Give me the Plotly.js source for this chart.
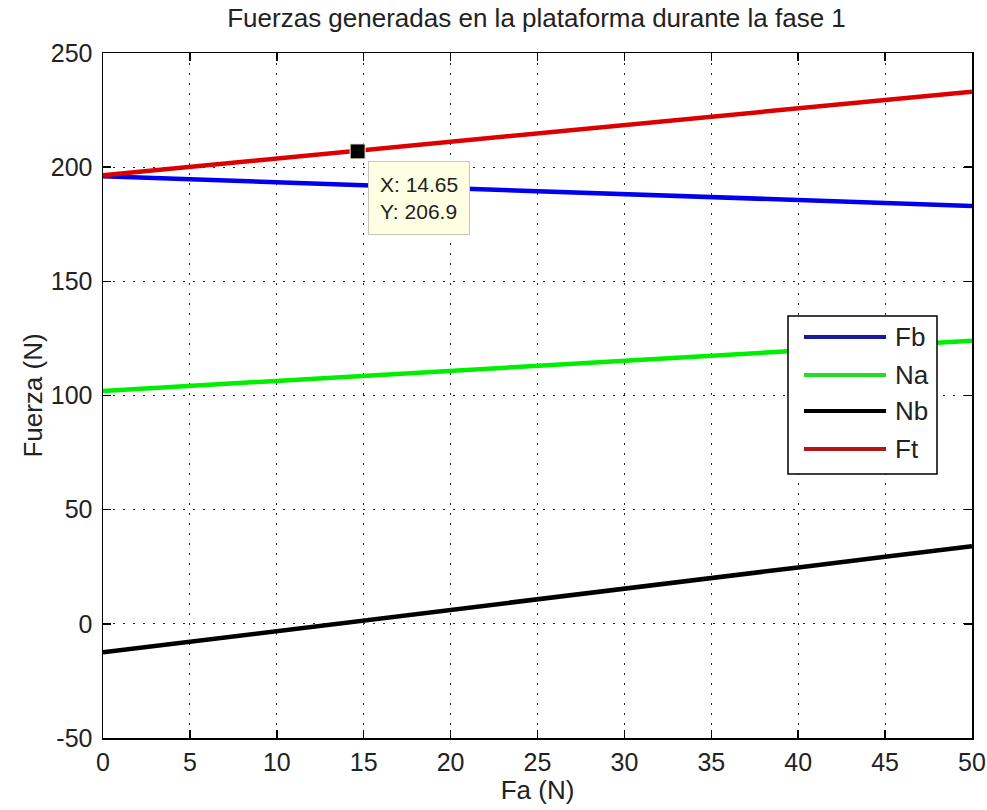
<!DOCTYPE html>
<html>
<head>
<meta charset="utf-8">
<script src="https://cdn.plot.ly/plotly-3.0.1.min.js"></script>
<style>html,body{margin:0;padding:0;background:#fff;}#chart{width:987px;height:810px;}</style>
</head>
<body>
<div id="chart"></div>
<script>
// Data
const fa = [0, 5, 10, 15, 20, 25, 30, 35, 40, 45, 50];
const fb = [196.0, 194.7, 193.4, 192.1, 190.8, 189.5, 188.2, 186.9, 185.6, 184.3, 183.0];
const na = [102.0, 104.2, 106.4, 108.6, 110.8, 113.0, 115.2, 117.4, 119.6, 121.8, 124.0];
const nb = [-12.5, -7.9, -3.2, 1.5, 6.1, 10.8, 15.4, 20.1, 24.7, 29.4, 34.0];
const ft = [196.5, 200.2, 203.8, 207.5, 211.1, 214.8, 218.4, 222.1, 225.7, 229.4, 233.0];
const seriesNames = ["Fb", "Na", "Nb", "Ft"];
const tipX = [14.65];
const tipY = [206.9];
const xTicks = [0, 5, 10, 15, 20, 25, 30, 35, 40, 45, 50];
const yTicks = [-50, 0, 50, 100, 150, 200, 250];

const font = "Liberation Sans, Arial, sans-serif";
const textColor = "#222";
const colors = ["#0000ee", "#00ee00", "#000000", "#dd0000"];
const legendColors = ["#1a1aa0", "#22dd22", "#000000", "#b01818"];
const ys = [fb, na, nb, ft];

const traces = ys.map((y, i) => ({
  x: fa, y: y, type: "scatter", mode: "lines", name: seriesNames[i],
  line: {color: colors[i], width: 4.5}
}));
traces.push({
  x: tipX, y: tipY, type: "scatter", mode: "markers", showlegend: false,
  marker: {symbol: "square", size: 15, color: "#000", line: {color: "#fffbd0", width: 1}}
});

const axisCommon = {
  showline: true, linecolor: "#000", linewidth: 1.5, mirror: "allticks",
  ticks: "inside", ticklen: 8, tickcolor: "#000", tickwidth: 1.5,
  showgrid: true, gridcolor: "#222", gridwidth: 1, griddash: "2px,8px",
  zeroline: false, tickfont: {family: font, size: 25, color: textColor}
};

// Plot-area geometry (pixels) used to place the custom legend box
const M = {l: 103, r: 15, t: 53, b: 72};
const PW = 987 - M.l - M.r, PH = 810 - M.t - M.b;
const px = v => (v - M.l) / PW;
const py = v => (810 - M.b - v) / PH;

const legendRowsY = [337, 375, 411, 449];
const shapes = [{
  type: "rect", xref: "paper", yref: "paper",
  x0: px(788), x1: px(937), y0: py(474), y1: py(316),
  fillcolor: "#fff", line: {color: "#000", width: 1.5}, layer: "above"
}];
const annotations = [];
seriesNames.forEach((n, i) => {
  shapes.push({
    type: "line", xref: "paper", yref: "paper",
    x0: px(804), x1: px(886), y0: py(legendRowsY[i]), y1: py(legendRowsY[i]),
    line: {color: legendColors[i], width: 4}, layer: "above"
  });
  annotations.push({
    xref: "paper", yref: "paper", x: px(893), y: py(legendRowsY[i]),
    xanchor: "left", yanchor: "middle", text: n, showarrow: false,
    font: {family: font, size: 26, color: textColor}
  });
});
annotations.push({
  x: tipX[0], y: tipY[0], xref: "x", yref: "y",
  text: "X: " + tipX[0] + "<br>Y: " + tipY[0],
  showarrow: false, xanchor: "left", yanchor: "top", align: "left",
  xshift: 10, yshift: -10,
  font: {family: font, size: 21, color: textColor},
  bgcolor: "#ffffe4", bordercolor: "#c8c8b8", borderwidth: 1, borderpad: 11
});

const layout = {
  width: 987, height: 810,
  paper_bgcolor: "#fff", plot_bgcolor: "#fff",
  margin: M,
  showlegend: false,
  title: {text: "Fuerzas generadas en la plataforma durante la fase 1",
          font: {family: font, size: 26, color: textColor}, x: 0.5436, xanchor: "center", y: 0.978, yanchor: "middle"},
  xaxis: Object.assign({}, axisCommon, {
    range: [0, 50], tickvals: xTicks, ticktext: xTicks.map(String), ticklabelstandoff: 1,
    title: {text: "Fa (N)", font: {family: font, size: 26, color: textColor}, standoff: 6}
  }),
  yaxis: Object.assign({}, axisCommon, {
    range: [-50, 250], tickvals: yTicks, ticktext: yTicks.map(String), ticklabelstandoff: 4,
    title: {text: "Fuerza (N)", font: {family: font, size: 26, color: textColor}, standoff: 0}
  }),
  shapes: shapes,
  annotations: annotations
};

Plotly.newPlot("chart", traces, layout, {displayModeBar: false, staticPlot: true});
</script>
</body>
</html>
